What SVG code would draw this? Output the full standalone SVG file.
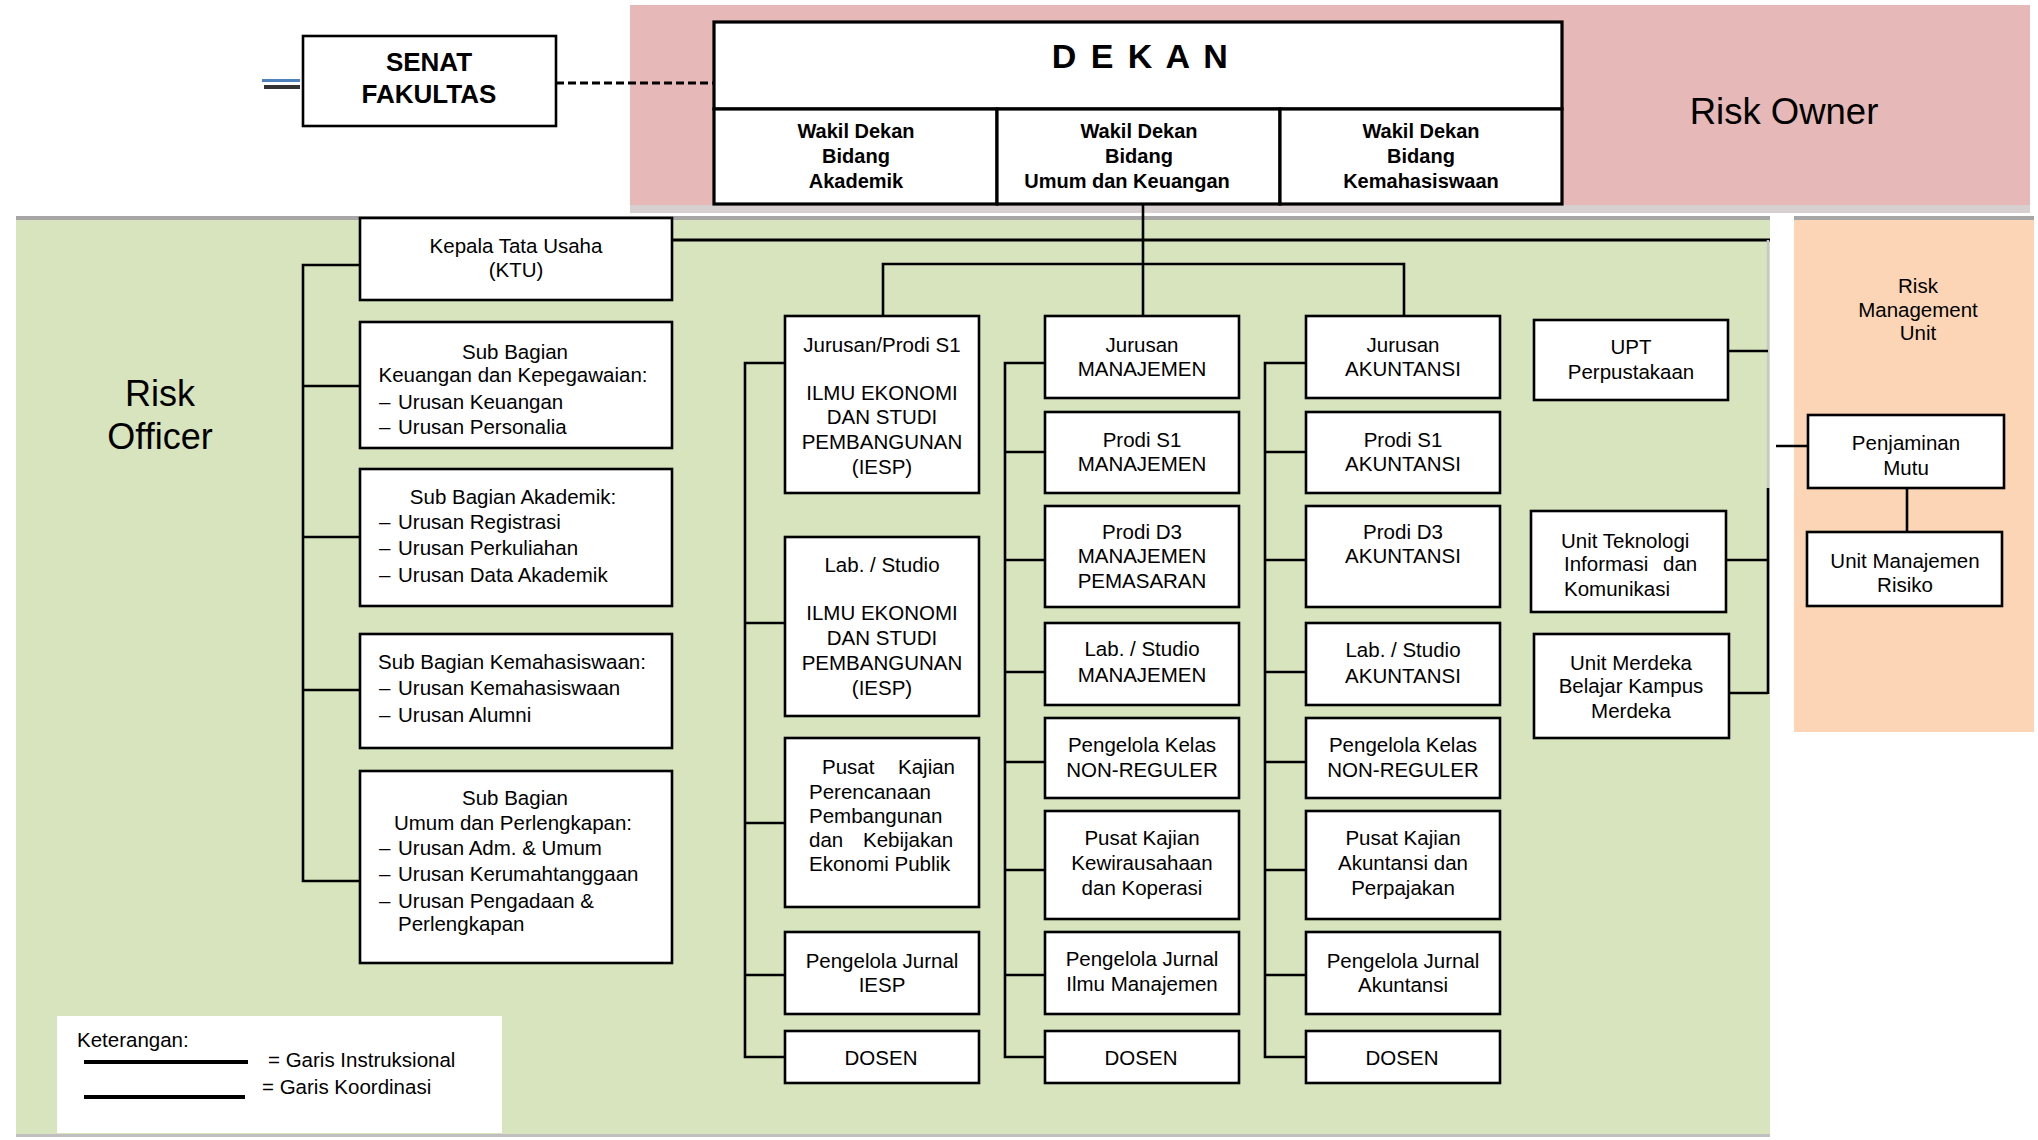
<svg xmlns="http://www.w3.org/2000/svg" width="2038" height="1140" viewBox="0 0 2038 1140">
<style>
.box{fill:#fff;stroke:#000;stroke-width:2.6}
.t{font-family:"Liberation Sans",Arial,sans-serif;font-size:20.5px;fill:#000}
.c{text-anchor:middle}
.b{font-weight:bold}
.big{font-size:36.5px}
.wk{font-size:20px;font-weight:bold}
.conn{stroke:#000;stroke-width:2.6;fill:none}
</style>
<rect width="2038" height="1140" fill="#fff"/>
<!-- regions -->
<g id="regions">
<rect x="630" y="5" width="1400" height="201" fill="#e6b8b7"/>
<rect x="630" y="205" width="1400" height="8" fill="#d8d0d0"/>
<rect x="16" y="218" width="1754" height="918" fill="#d7e4bd"/>
<rect x="16" y="216" width="1754" height="4" fill="#a6a6a6"/>
<rect x="16" y="1134" width="1754" height="3" fill="#bfbfbf"/>
<rect x="1794" y="218" width="240" height="514" fill="#fbd5b5"/>
<rect x="1794" y="216" width="240" height="4" fill="#a6a6a6"/>
<text class="t c big" x="1784" y="124">Risk Owner</text>
<text class="t c" x="160" y="406" style="font-size:36px">Risk</text>
<text class="t c" x="160" y="449" style="font-size:36px">Officer</text>
<text class="t c" x="1918" y="293">Risk</text>
<text class="t c" x="1918" y="317">Management</text>
<text class="t c" x="1918" y="340">Unit</text>
<rect x="262" y="79" width="38" height="3" fill="#4f81bd"/>
<rect x="264" y="85" width="36" height="4" fill="#333"/>
</g>
<!-- connectors -->
<g id="connectors">
<path class="conn" d="M556,83 H714" stroke-dasharray="8 4" style="stroke-width:3"/>
<path class="conn" d="M672,240 H1770" style="stroke-width:3.2"/>
<path class="conn" d="M360,265 H303 V881 H360 M303,386 H360 M303,537 H360 M303,690 H360"/>
<path class="conn" d="M1143,204 V316 M883,316 V264 H1404 V316"/>
<path class="conn" d="M785,363 H745 V1057 H785 M745,623 H785 M745,823 H785 M745,975 H785"/>
<path class="conn" d="M1045,363 H1005 V1057 H1045 M1005,452 H1045 M1005,560 H1045 M1005,672 H1045 M1005,762 H1045 M1005,870 H1045 M1005,975 H1045"/>
<path class="conn" d="M1306,363 H1265 V1057 H1306 M1265,452 H1306 M1265,560 H1306 M1265,672 H1306 M1265,762 H1306 M1265,870 H1306 M1265,975 H1306"/>
<path d="M1768,240 V488" stroke="#c8c8c8" stroke-width="2.5" fill="none"/>
<path class="conn" d="M1728,351 H1768 M1768,488 V694 M1726,560 H1768 M1729,693 H1768"/>
<path class="conn" d="M1776,446 H1808 M1907,488 V532"/>
</g>
<!-- top nodes -->
<g id="senat">
<rect class="box" x="303" y="36" width="253" height="90"/>
<text class="t c b" x="429" y="71" style="font-size:26px">SENAT</text>
<text class="t c b" x="429" y="103" style="font-size:26px">FAKULTAS</text>
</g>
<g id="dekan">
<rect class="box" x="714" y="22" width="848" height="87" style="stroke-width:3.2"/>
<text class="t c b" x="1141" y="68" style="font-size:34px;letter-spacing:2.5px">D E K A N</text>
</g>
<g id="wd-akademik">
<rect class="box" x="714" y="109" width="283" height="95" style="stroke-width:3.2"/>
<text class="t c wk" x="856" y="138">Wakil Dekan</text>
<text class="t c wk" x="856" y="163">Bidang</text>
<text class="t c wk" x="856" y="188">Akademik</text>
</g>
<g id="wd-umum">
<rect class="box" x="997" y="109" width="283" height="95" style="stroke-width:3.2"/>
<text class="t c wk" x="1139" y="138">Wakil Dekan</text>
<text class="t c wk" x="1139" y="163">Bidang</text>
<text class="t c wk" x="1127" y="188">Umum dan Keuangan</text>
</g>
<g id="wd-kemahasiswaan">
<rect class="box" x="1280" y="109" width="282" height="95" style="stroke-width:3.2"/>
<text class="t c wk" x="1421" y="138">Wakil Dekan</text>
<text class="t c wk" x="1421" y="163">Bidang</text>
<text class="t c wk" x="1421" y="188">Kemahasiswaan</text>
</g>
<!-- left column -->
<g id="ktu">
<rect class="box" x="360" y="218" width="312" height="82"/>
<text class="t c" x="516" y="253">Kepala Tata Usaha</text>
<text class="t c" x="516" y="277">(KTU)</text>
</g>
<g id="sb-keuangan">
<rect class="box" x="360" y="322" width="312" height="126"/>
<text class="t c" x="515" y="359">Sub Bagian</text>
<text class="t c" x="513" y="382">Keuangan dan Kepegawaian:</text>
<text class="t" y="409"><tspan x="379">–</tspan><tspan x="398">Urusan Keuangan</tspan></text>
<text class="t" y="434"><tspan x="379">–</tspan><tspan x="398">Urusan Personalia</tspan></text>
</g>
<g id="sb-akademik">
<rect class="box" x="360" y="469" width="312" height="137"/>
<text class="t c" x="513" y="504">Sub Bagian Akademik:</text>
<text class="t" y="529"><tspan x="379">–</tspan><tspan x="398">Urusan Registrasi</tspan></text>
<text class="t" y="555"><tspan x="379">–</tspan><tspan x="398">Urusan Perkuliahan</tspan></text>
<text class="t" y="582"><tspan x="379">–</tspan><tspan x="398">Urusan Data Akademik</tspan></text>
</g>
<g id="sb-kemahasiswaan">
<rect class="box" x="360" y="634" width="312" height="114"/>
<text class="t c" x="512" y="669">Sub Bagian Kemahasiswaan:</text>
<text class="t" y="695"><tspan x="379">–</tspan><tspan x="398">Urusan Kemahasiswaan</tspan></text>
<text class="t" y="722"><tspan x="379">–</tspan><tspan x="398">Urusan Alumni</tspan></text>
</g>
<g id="sb-umum">
<rect class="box" x="360" y="771" width="312" height="192"/>
<text class="t c" x="515" y="805">Sub Bagian</text>
<text class="t c" x="513" y="830">Umum dan Perlengkapan:</text>
<text class="t" y="855"><tspan x="379">–</tspan><tspan x="398">Urusan Adm. &amp; Umum</tspan></text>
<text class="t" y="881"><tspan x="379">–</tspan><tspan x="398">Urusan Kerumahtanggaan</tspan></text>
<text class="t" y="908"><tspan x="379">–</tspan><tspan x="398">Urusan Pengadaan &amp;</tspan></text>
<text class="t" x="398" y="931">Perlengkapan</text>
</g>
<!-- column A: IESP -->
<g id="iesp-jurusan">
<rect class="box" x="785" y="316" width="194" height="177"/>
<text class="t c" x="882" y="352">Jurusan/Prodi S1</text>
<text class="t c" x="882" y="400">ILMU EKONOMI</text>
<text class="t c" x="882" y="424">DAN STUDI</text>
<text class="t c" x="882" y="449">PEMBANGUNAN</text>
<text class="t c" x="882" y="474">(IESP)</text>
</g>
<g id="iesp-lab">
<rect class="box" x="785" y="537" width="194" height="179"/>
<text class="t c" x="882" y="572">Lab. / Studio</text>
<text class="t c" x="882" y="620">ILMU EKONOMI</text>
<text class="t c" x="882" y="645">DAN STUDI</text>
<text class="t c" x="882" y="670">PEMBANGUNAN</text>
<text class="t c" x="882" y="695">(IESP)</text>
</g>
<g id="iesp-pusat">
<rect class="box" x="785" y="738" width="194" height="169"/>
<text class="t" y="774"><tspan x="822">Pusat</tspan><tspan x="898">Kajian</tspan></text>
<text class="t" x="809" y="799">Perencanaan</text>
<text class="t" x="809" y="823">Pembangunan</text>
<text class="t" y="847"><tspan x="809">dan</tspan><tspan x="863">Kebijakan</tspan></text>
<text class="t" x="809" y="871">Ekonomi Publik</text>
</g>
<g id="iesp-jurnal">
<rect class="box" x="785" y="932" width="194" height="82"/>
<text class="t c" x="882" y="968">Pengelola Jurnal</text>
<text class="t c" x="882" y="992">IESP</text>
</g>
<g id="iesp-dosen">
<rect class="box" x="785" y="1031" width="194" height="52"/>
<text class="t c" x="881" y="1065">DOSEN</text>
</g>
<!-- column B: Manajemen -->
<g id="mj-jurusan">
<rect class="box" x="1045" y="316" width="194" height="82"/>
<text class="t c" x="1142" y="352">Jurusan</text>
<text class="t c" x="1142" y="376">MANAJEMEN</text>
</g>
<g id="mj-s1">
<rect class="box" x="1045" y="412" width="194" height="81"/>
<text class="t c" x="1142" y="447">Prodi S1</text>
<text class="t c" x="1142" y="471">MANAJEMEN</text>
</g>
<g id="mj-d3">
<rect class="box" x="1045" y="506" width="194" height="101"/>
<text class="t c" x="1142" y="539">Prodi D3</text>
<text class="t c" x="1142" y="563">MANAJEMEN</text>
<text class="t c" x="1142" y="588">PEMASARAN</text>
</g>
<g id="mj-lab">
<rect class="box" x="1045" y="623" width="194" height="82"/>
<text class="t c" x="1142" y="656">Lab. / Studio</text>
<text class="t c" x="1142" y="682">MANAJEMEN</text>
</g>
<g id="mj-kelas">
<rect class="box" x="1045" y="718" width="194" height="80"/>
<text class="t c" x="1142" y="752">Pengelola Kelas</text>
<text class="t c" x="1142" y="777">NON-REGULER</text>
</g>
<g id="mj-pusat">
<rect class="box" x="1045" y="811" width="194" height="108"/>
<text class="t c" x="1142" y="845">Pusat Kajian</text>
<text class="t c" x="1142" y="870">Kewirausahaan</text>
<text class="t c" x="1142" y="895">dan Koperasi</text>
</g>
<g id="mj-jurnal">
<rect class="box" x="1045" y="932" width="194" height="82"/>
<text class="t c" x="1142" y="966">Pengelola Jurnal</text>
<text class="t c" x="1142" y="991">Ilmu Manajemen</text>
</g>
<g id="mj-dosen">
<rect class="box" x="1045" y="1031" width="194" height="52"/>
<text class="t c" x="1141" y="1065">DOSEN</text>
</g>
<!-- column C: Akuntansi -->
<g id="ak-jurusan">
<rect class="box" x="1306" y="316" width="194" height="82"/>
<text class="t c" x="1403" y="352">Jurusan</text>
<text class="t c" x="1403" y="376">AKUNTANSI</text>
</g>
<g id="ak-s1">
<rect class="box" x="1306" y="412" width="194" height="81"/>
<text class="t c" x="1403" y="447">Prodi S1</text>
<text class="t c" x="1403" y="471">AKUNTANSI</text>
</g>
<g id="ak-d3">
<rect class="box" x="1306" y="506" width="194" height="101"/>
<text class="t c" x="1403" y="539">Prodi D3</text>
<text class="t c" x="1403" y="563">AKUNTANSI</text>
</g>
<g id="ak-lab">
<rect class="box" x="1306" y="623" width="194" height="82"/>
<text class="t c" x="1403" y="657">Lab. / Studio</text>
<text class="t c" x="1403" y="683">AKUNTANSI</text>
</g>
<g id="ak-kelas">
<rect class="box" x="1306" y="718" width="194" height="80"/>
<text class="t c" x="1403" y="752">Pengelola Kelas</text>
<text class="t c" x="1403" y="777">NON-REGULER</text>
</g>
<g id="ak-pusat">
<rect class="box" x="1306" y="811" width="194" height="108"/>
<text class="t c" x="1403" y="845">Pusat Kajian</text>
<text class="t c" x="1403" y="870">Akuntansi dan</text>
<text class="t c" x="1403" y="895">Perpajakan</text>
</g>
<g id="ak-jurnal">
<rect class="box" x="1306" y="932" width="194" height="82"/>
<text class="t c" x="1403" y="968">Pengelola Jurnal</text>
<text class="t c" x="1403" y="992">Akuntansi</text>
</g>
<g id="ak-dosen">
<rect class="box" x="1306" y="1031" width="194" height="52"/>
<text class="t c" x="1402" y="1065">DOSEN</text>
</g>
<!-- column D -->
<g id="upt">
<rect class="box" x="1534" y="320" width="194" height="80"/>
<text class="t c" x="1631" y="354">UPT</text>
<text class="t c" x="1631" y="379">Perpustakaan</text>
</g>
<g id="tik">
<rect class="box" x="1531" y="511" width="195" height="101"/>
<text class="t" x="1561" y="548">Unit Teknologi</text>
<text class="t" y="571"><tspan x="1564">Informasi</tspan><tspan x="1663">dan</tspan></text>
<text class="t" x="1564" y="596">Komunikasi</text>
</g>
<g id="merdeka">
<rect class="box" x="1534" y="634" width="195" height="104"/>
<text class="t c" x="1631" y="670">Unit Merdeka</text>
<text class="t c" x="1631" y="693">Belajar Kampus</text>
<text class="t c" x="1631" y="718">Merdeka</text>
</g>
<!-- risk management unit -->
<g id="penjaminan">
<rect class="box" x="1808" y="415" width="196" height="73"/>
<text class="t c" x="1906" y="450">Penjaminan</text>
<text class="t c" x="1906" y="475">Mutu</text>
</g>
<g id="umr">
<rect class="box" x="1807" y="532" width="195" height="74"/>
<text class="t c" x="1905" y="568">Unit Manajemen</text>
<text class="t c" x="1905" y="592">Risiko</text>
</g>
<!-- legend -->
<g id="legend">
<rect x="57" y="1016" width="445" height="117" fill="#fff"/>
<text class="t" x="77" y="1047">Keterangan:</text>
<line x1="84" y1="1062" x2="248" y2="1062" stroke="#000" stroke-width="4"/>
<line x1="84" y1="1097" x2="245" y2="1097" stroke="#000" stroke-width="4"/>
<text class="t" x="268" y="1067">= Garis Instruksional</text>
<text class="t" x="262" y="1094">= Garis Koordinasi</text>
</g>
</svg>
